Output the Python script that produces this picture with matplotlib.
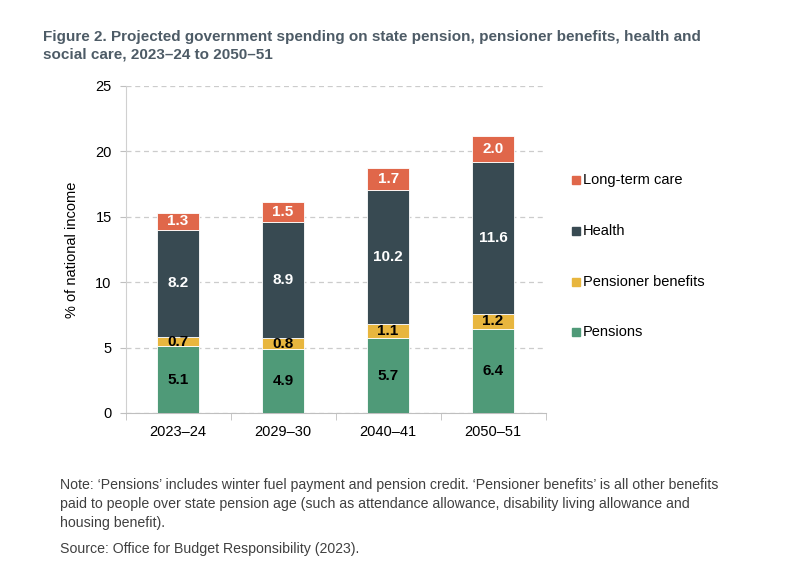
import numpy as np
import matplotlib
matplotlib.use('Agg')
import matplotlib.pyplot as plt

plt.rcParams['font.family'] = ['Liberation Sans', 'DejaVu Sans']

# data
years = ['2023–24', '2029–30', '2040–41', '2050–51']
pensions = [5.1, 4.9, 5.7, 6.4]
benefits = [0.7, 0.8, 1.1, 1.2]
health = [8.2, 8.9, 10.2, 11.6]
ltc = [1.3, 1.5, 1.7, 2.0]

series = [
    ('Pensions', pensions, '#4f9a78', 'black'),
    ('Pensioner benefits', benefits, '#e8b63e', 'black'),
    ('Health', health, '#384a52', 'white'),
    ('Long-term care', ltc, '#e0674a', 'white'),
]

fig = plt.figure(figsize=(8, 5.72), dpi=100)
ax = fig.add_axes([0.157, 0.278, 0.525, 0.572])

x = np.arange(len(years))
bottom = np.zeros(len(years))
for name, vals, col, tcol in series:
    vals = np.array(vals)
    ax.bar(x, vals, 0.40, bottom=bottom, color=col, edgecolor='white', linewidth=0.6, zorder=3)
    for xi, b, v in zip(x, bottom, vals):
        ax.text(xi, b + v / 2, f'{v:.1f}', ha='center', va='center', color=tcol,
                fontsize=11, fontweight='bold', zorder=4)
    bottom += vals

ax.set_xlim(-0.5, 3.5)
ax.set_ylim(0, 25)
ax.set_yticks([0, 5, 10, 15, 20, 25])
ax.set_xticks(x)
ax.set_xticklabels(years)
ax.set_xticks([-0.5, 0.5, 1.5, 2.5, 3.5], minor=True)
ax.tick_params(axis='x', which='major', length=0, labelsize=10.5, pad=9)
ax.tick_params(axis='x', which='minor', length=5, color='#bfbfbf', direction='out')
ax.tick_params(axis='y', length=4, color='#bfbfbf', labelsize=10.5, pad=6)
ax.yaxis.grid(True, linestyle=(0, (4, 3)), color='#cccccc', linewidth=0.9, zorder=0)
for s in ['top', 'right']:
    ax.spines[s].set_visible(False)
ax.spines['left'].set_color('#d0d0d0')
ax.spines['bottom'].set_color('#bfbfbf')
ax.set_ylabel('% of national income', fontsize=10.5, labelpad=12)

# legend drawn as text entries on the right, top entry = top of stack
leg_y = [0.315, 0.403, 0.493, 0.580]
for (name, vals, col, tcol), yy in zip(series[::-1], leg_y):
    fig.patches.append(plt.Rectangle((0.715, 1 - yy - 0.007), 0.010, 0.014, color=col,
                                     transform=fig.transFigure, figure=fig))
    fig.text(0.729, 1 - yy, name, fontsize=10.5, va='center', ha='left')

fig.text(0.054, 0.947, 'Figure 2. Projected government spending on state pension, pensioner benefits, health and\nsocial care, 2023–24 to 2050–51',
         fontsize=11, fontweight='bold', color='#4d5b66', va='top', ha='left', linespacing=1.3)

fig.text(0.075, 0.164, 'Note: ‘Pensions’ includes winter fuel payment and pension credit. ‘Pensioner benefits’ is all other benefits\n'
         'paid to people over state pension age (such as attendance allowance, disability living allowance and\nhousing benefit).',
         fontsize=10.2, color='#404040', va='top', ha='left', linespacing=1.45)
fig.text(0.075, 0.041, 'Source: Office for Budget Responsibility (2023).', fontsize=10.2, color='#404040',
         va='center', ha='left')

plt.savefig('out.png', dpi=100)
